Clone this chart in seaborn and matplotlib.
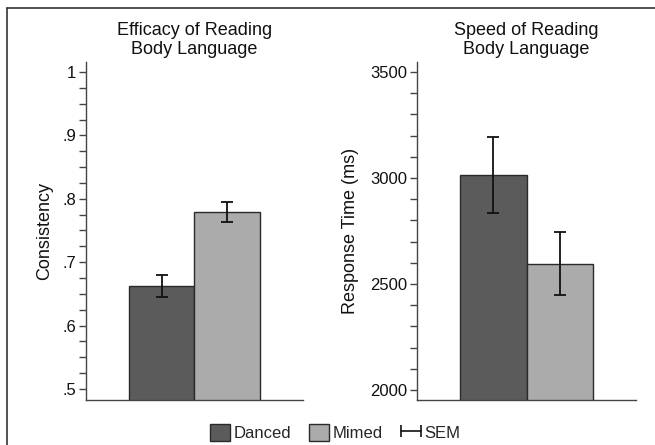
import numpy as np
import pandas as pd
import matplotlib.pyplot as plt
import seaborn as sns
from matplotlib.lines import Line2D
from matplotlib.patches import Patch
from matplotlib.legend_handler import HandlerLine2D
from matplotlib.ticker import FuncFormatter, MultipleLocator

# values
conditions = ["Danced", "Mimed"]
consistency = [0.663, 0.779]
consistency_sem = [0.0175, 0.0155]
response_time = [3015, 2596]
response_sem = [180, 148]

colors = {"Danced": "#5b5b5b", "Mimed": "#ababab"}

sns.set_theme(style="white")
plt.rcParams['font.family'] = ['Liberation Sans', 'DejaVu Sans']

df = pd.DataFrame({
    "condition": conditions,
    "consistency": consistency,
    "consistency_sem": consistency_sem,
    "rt": response_time,
    "rt_sem": response_sem,
})

fig = plt.figure(figsize=(6.55, 4.45), dpi=100)
ax1 = fig.add_axes([86/655, 45/445, 217/655, 338/445])
ax2 = fig.add_axes([417/655, 45/445, 219/655, 338/445])


def stata_fmt(v, pos):
    return f"{v:g}".lstrip("0") if v < 1 else f"{v:g}"


def draw_panel(ax, col, sem_col, title, ylabel, ylim, major, minor, fmt=None):
    sns.barplot(data=df, x="condition", y=col, hue="condition", palette=colors,
                width=1.0, edgecolor="#2a2a2a", linewidth=1.0, errorbar=None,
                legend=False, ax=ax)
    ax.errorbar(df["condition"], df[col], yerr=df[sem_col], fmt="none",
                ecolor="#111111", elinewidth=1.3, capsize=4.5, capthick=1.3)
    ax.set_xlim(-1.144, 2.144)
    ax.set_ylim(*ylim)
    ax.yaxis.set_major_locator(MultipleLocator(major))
    ax.yaxis.set_minor_locator(MultipleLocator(minor))
    if fmt:
        ax.yaxis.set_major_formatter(FuncFormatter(fmt))
    ax.set_xticks([])
    ax.set_xlabel("")
    ax.set_ylabel(ylabel, fontsize=13, color="#111111")
    ax.set_title(title, fontsize=13, pad=6, linespacing=1.12, color="#111111")
    for s in ["top", "right"]:
        ax.spines[s].set_visible(False)
    for s in ["left", "bottom"]:
        ax.spines[s].set_color("#444444")
        ax.spines[s].set_linewidth(1.0)
    ax.tick_params(axis="y", which="both", left=True, length=5, width=1.0,
                   color="#444444", labelsize=12, labelcolor="#111111", pad=2)
    ax.tick_params(axis="y", which="minor", length=5)


draw_panel(ax1, "consistency", "consistency_sem",
           "Efficacy of Reading\nBody Language", "Consistency",
           (0.4826, 1.0158), 0.1, 0.025, stata_fmt)
draw_panel(ax2, "rt", "rt_sem",
           "Speed of Reading\nBody Language", "Response Time (ms)",
           (1952.8, 3547), 500, 100)
ax1.yaxis.set_label_coords(-0.152, 0.5)
ax2.yaxis.set_label_coords(-0.265, 0.5)

# legend
handles = [Patch(facecolor=colors[c], edgecolor="#2a2a2a", label=c) for c in conditions]
sem_handle = Line2D([], [], color="#111111", lw=1.2, marker="|", markersize=8,
                    markeredgewidth=1.2, label="SEM")
handles.append(sem_handle)
fig.legend(handles=handles, loc="center", bbox_to_anchor=(0.512, 0.029), ncol=3,
           frameon=False, fontsize=12, handlelength=1.2, handleheight=1.2,
           handletextpad=0.2, columnspacing=1.1,
           handler_map={sem_handle: HandlerLine2D(marker_pad=0, numpoints=2)})

# frame around the plot region (left and top only, as in the scan)
fig.add_artist(Line2D([7/655, 7/655], [0, 1 - 8/445], transform=fig.transFigure,
                      color="#333333", lw=1.2))
fig.add_artist(Line2D([7/655, 1], [1 - 8/445, 1 - 8/445], transform=fig.transFigure,
                      color="#333333", lw=1.2))

fig.savefig("out.png", dpi=100, facecolor="white")
